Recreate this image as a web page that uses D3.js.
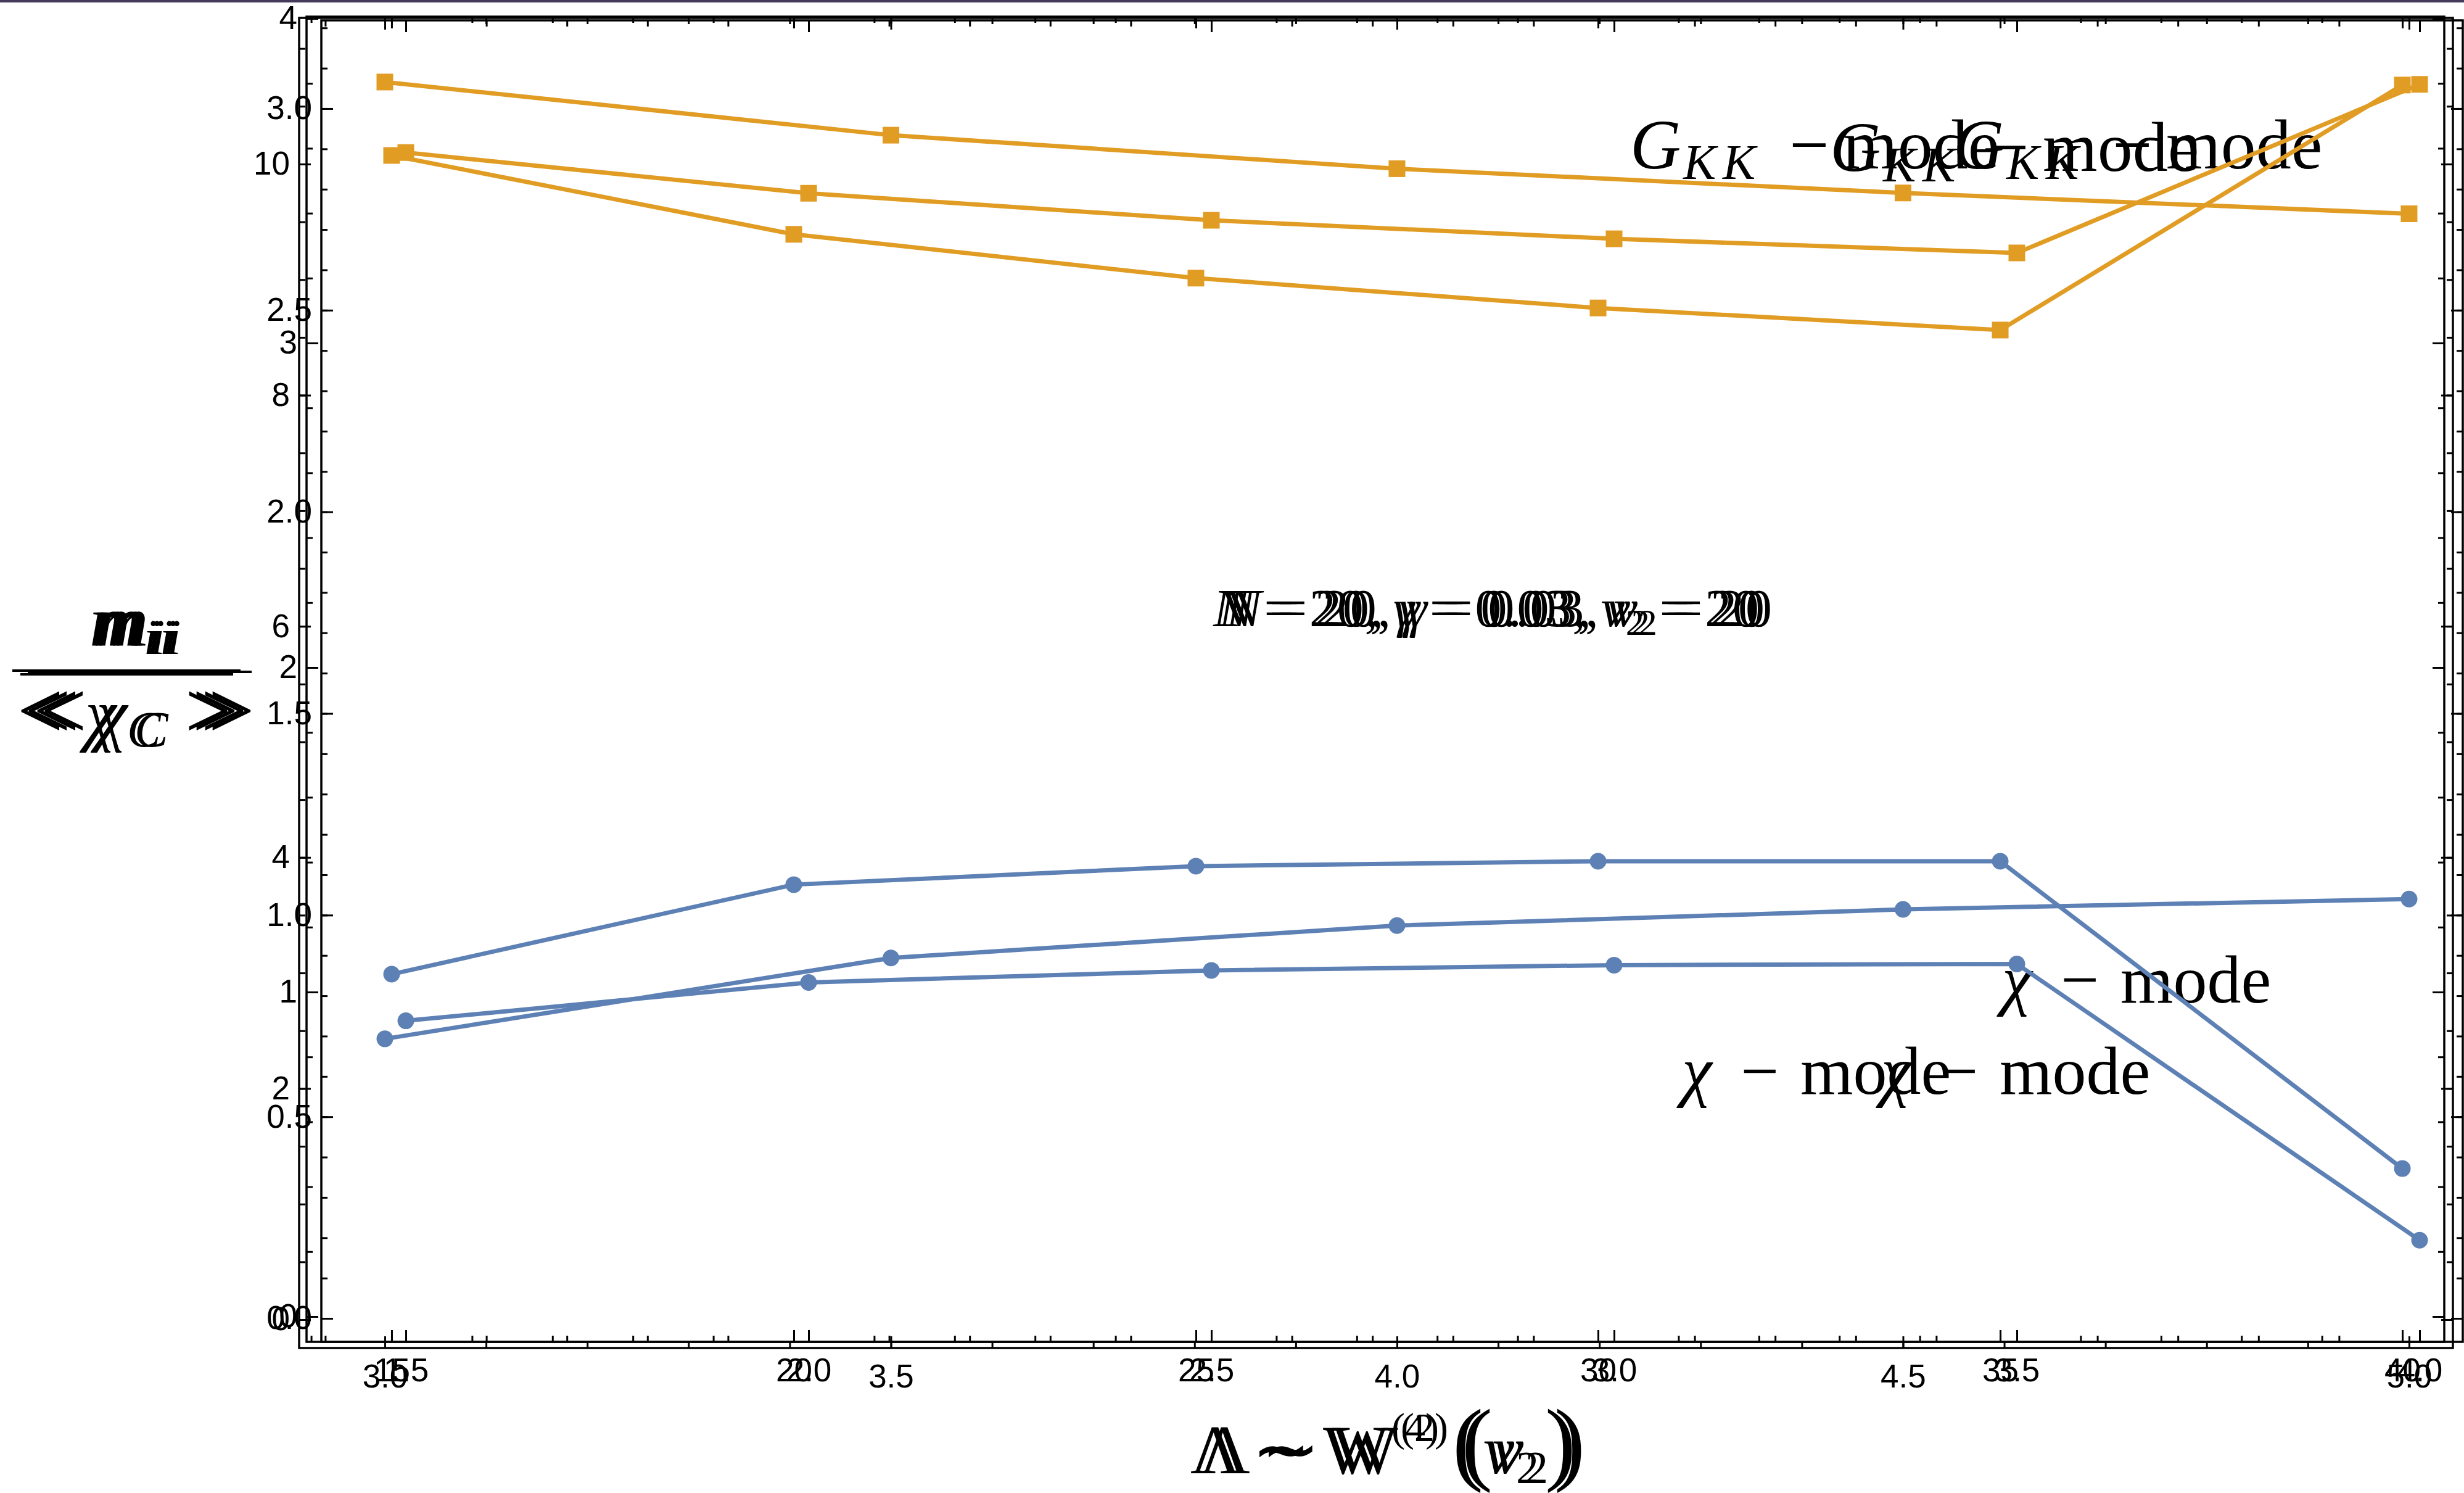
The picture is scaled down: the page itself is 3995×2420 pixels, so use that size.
<!DOCTYPE html>
<html>
<head>
<title>mode masses overlay</title>
<script src="https://cdnjs.cloudflare.com/ajax/libs/d3/7.8.5/d3.min.js"></script>
<style>
body { margin: 0; background: #fff; }
.math { font-family: "Liberation Serif", "Times New Roman", serif; fill: #000; }
</style>
</head>
<body>
<div id="vis_container"></div>
<script>

// ---- data ----
// plot 1 (x from 3.0 to 5.0, y from 0 to 10)
var p1_x = [3.0, 3.5, 4.0, 4.5, 5.0];
var p1_gkk = [10.71, 10.25, 9.96, 9.75, 9.57];
var p1_chi = [2.43, 3.13, 3.41, 3.55, 3.64];
var p1_xticks = [3.0, 3.5, 4.0, 4.5, 5.0];
var p1_yticks = [0, 2, 4, 6, 8, 10];

// plot 2 (x from 15 to 40, y from 0 to 4)
var p2_x = [15, 20, 25, 30, 35, 40];
var p2_gkk = [3.578, 3.335, 3.200, 3.108, 3.040, 3.795];
var p2_chi = [1.055, 1.331, 1.388, 1.403, 1.403, 0.456];
var p2_xticks = [15, 20, 25, 30, 35, 40];
var p2_yticks = [0, 1, 2, 3, 4];

// plot 3 (x from 1.5 to 4.0, y from 0.0 to 3.0)
var p3_x = [1.5, 2.0, 2.5, 3.0, 3.5, 4.0];
var p3_gkk = [2.891, 2.790, 2.723, 2.677, 2.642, 3.060];
var p3_chi = [0.738, 0.833, 0.863, 0.876, 0.879, 0.194];
var p3_xticks = [1.5, 2.0, 2.5, 3.0, 3.5, 4.0];
var p3_yticks = [0.0, 0.5, 1.0, 1.5, 2.0, 2.5, 3.0];

var width = 3995;
var height = 2420;
var orange = "#e19c24";
var blue = "#5e81b5";

var plots = [
    { x: p1_x, gkk: p1_gkk, chi: p1_chi, xticks: p1_xticks, yticks: p1_yticks,
      xminor: 0.1, yminor: 0.5, xfmt: d3.format(".1f"), yfmt: d3.format("d"),
      frame: { left: 485, top: 29, right: 3977, bottom: 2185 },
      xdom: [2.9153, 5.0433], ydom: [-0.2456, 11.265] },
    { x: p2_x, gkk: p2_gkk, chi: p2_chi, xticks: p2_xticks, yticks: p2_yticks,
      xminor: 1, yminor: 0.2, xfmt: d3.format("d"), yfmt: d3.format("d"),
      frame: { left: 497, top: 27, right: 3963, bottom: 2175 },
      xdom: [13.942, 40.521], ydom: [-0.078, 4.0057] },
    { x: p3_x, gkk: p3_gkk, chi: p3_chi, xticks: p3_xticks, yticks: p3_yticks,
      xminor: 0.1, yminor: 0.1, xfmt: d3.format(".1f"), yfmt: d3.format(".1f"),
      frame: { left: 521, top: 33, right: 3993, bottom: 2175 },
      xdom: [1.3951, 4.0536], ydom: [-0.0581, 3.2187] }
];

var svg = d3.select("#vis_container")
    .append("svg")
    .attr("width", width)
    .attr("height", height);

svg.append("rect").attr("width", width).attr("height", height).attr("fill", "#fff");
// thin dark strip at the very top
svg.append("rect").attr("width", width).attr("height", 4).attr("fill", "#463a5c");

// ---- text pieces (drawn first, the data lines sit over them) ----
function mathText(x, y, size, parts) {
    var t = svg.append("text").attr("class", "math")
        .attr("x", x).attr("y", y).attr("font-size", size);
    parts.forEach(function(p) {
        var s = t.append("tspan").text(p.t);
        if (p.x != null) s.attr("x", x + p.x);
        if (p.dy) s.attr("dy", p.dy);
        if (p.it) s.attr("font-style", "italic");
        if (p.fs) s.attr("font-size", p.fs);
    });
    return t;
}

// G_KK - mode, three copies
[[2643, 273], [2967, 277], [3167, 273]].forEach(function(c) {
    mathText(c[0], c[1], 114, [
        { t: "G", it: true },
        { t: "K", it: true, x: 86, dy: 17, fs: 80 },
        { t: "K", it: true, x: 150, fs: 80 },
        { t: "\u2212", x: 258, dy: -17 },
        { t: "mode", x: 345 }
    ]);
});

// chi - mode, three copies
[[3246, 1625], [2727, 1773], [3050, 1773]].forEach(function(c) {
    mathText(c[0], c[1], 110, [
        { t: "\u03c7", it: true },
        { t: "\u2212", x: 95 },
        { t: "mode", x: 192 }
    ]);
});

// parameter text, three copies
[0, 9, 21].forEach(function(d) {
    mathText(1967 + d, 1015, 86, [
        { t: "N", it: true },
        { t: " = 20, " },
        { t: "\u03b3", it: true },
        { t: " = 0.03, " },
        { t: "v", it: true },
        { t: "2", dy: 14, fs: 60 },
        { t: " = 20", dy: -14 }
    ]).attr("textLength", 885).attr("lengthAdjust", "spacing");
});

// x axis label, two copies
[[0, "4"], [15, "2"]].forEach(function(c) {
    var x0 = 1930 + c[0];
    mathText(x0, 2388, 113, [
        { t: "\u039b" },
        { t: "\u223c", x: 100 },
        { t: "W", x: 215 },
        { t: "(" + c[1] + ")", x: 326, dy: -52, fs: 66 },
        { t: "(", x: 425, dy: 52, fs: 150 },
        { t: "v", it: true, x: 475 },
        { t: "2", x: 528, dy: 16, fs: 74 },
        { t: ")", x: 575, dy: -16, fs: 150 }
    ]);
});

// y axis label: m_ii over <<chi_C>>, copies
[0, 6, 12].forEach(function(d) {
    mathText(145 + d, 1046, 116, [
        { t: "m", it: true },
        { t: "i", it: true, x: 88, dy: 14, fs: 80 },
        { t: "i", it: true, x: 114, fs: 80 }
    ]);
});
[0, 12].forEach(function(d) {
    mathText(28 + d, 1196, 114, [
        { t: "<", fs: 132 },
        { t: "<", x: 26, fs: 132 },
        { t: "\u03c7", it: true, x: 110 + d * 0.5 },
        { t: "C", it: true, x: 178, dy: 14, fs: 82 },
        { t: ">", x: 272, dy: -14, fs: 132 },
        { t: ">", x: 298, fs: 132 }
    ]);
});
[[20, 390, 1087], [33, 378, 1093], [45, 408, 1089]].forEach(function(l) {
    svg.append("line").attr("x1", l[0]).attr("x2", l[1])
        .attr("y1", l[2]).attr("y2", l[2])
        .attr("stroke", "#000").attr("stroke-width", 4);
});

// ---- the three overlaid plots ----
function minorValues(dom, step) {
    var a = Math.ceil(dom[0] / step - 1e-9), b = Math.floor(dom[1] / step + 1e-9);
    return d3.range(a, b + 1).map(function(k) { return +(k * step).toFixed(6); });
}

function styleAxis(g) {
    g.select(".domain").remove();
    g.selectAll(".tick line").attr("stroke", "#000").attr("stroke-width", 3);
    g.selectAll(".tick text")
        .attr("fill", "#000")
        .attr("font-family", "'Liberation Sans', Arial, sans-serif")
        .attr("font-size", 53);
}

plots.forEach(function(p) {
    var f = p.frame;
    var xs = d3.scaleLinear().domain(p.xdom).range([f.left, f.right]);
    var ys = d3.scaleLinear().domain(p.ydom).range([f.bottom, f.top]);
    var g = svg.append("g");

    var xmin = minorValues(p.xdom, p.xminor);
    var ymin = minorValues(p.ydom, p.yminor);

    // bottom
    g.append("g").attr("transform", "translate(0," + f.bottom + ")")
        .call(d3.axisBottom(xs).tickValues(xmin).tickSizeInner(-10).tickSizeOuter(0).tickFormat(""))
        .call(styleAxis);
    g.append("g").attr("transform", "translate(0," + f.bottom + ")")
        .call(d3.axisBottom(xs).tickValues(p.xticks).tickSizeInner(-19).tickSizeOuter(0)
            .tickPadding(26).tickFormat(p.xfmt))
        .call(styleAxis);
    // top
    g.append("g").attr("transform", "translate(0," + f.top + ")")
        .call(d3.axisTop(xs).tickValues(xmin).tickSizeInner(-10).tickSizeOuter(0).tickFormat(""))
        .call(styleAxis);
    g.append("g").attr("transform", "translate(0," + f.top + ")")
        .call(d3.axisTop(xs).tickValues(p.xticks).tickSizeInner(-19).tickSizeOuter(0).tickFormat(""))
        .call(styleAxis);
    // left
    g.append("g").attr("transform", "translate(" + f.left + ",0)")
        .call(d3.axisLeft(ys).tickValues(ymin).tickSizeInner(-10).tickSizeOuter(0).tickFormat(""))
        .call(styleAxis);
    g.append("g").attr("transform", "translate(" + f.left + ",0)")
        .call(d3.axisLeft(ys).tickValues(p.yticks).tickSizeInner(-19).tickSizeOuter(0)
            .tickPadding(15).tickFormat(p.yfmt))
        .call(styleAxis);
    // right
    g.append("g").attr("transform", "translate(" + f.right + ",0)")
        .call(d3.axisRight(ys).tickValues(ymin).tickSizeInner(-10).tickSizeOuter(0).tickFormat(""))
        .call(styleAxis);
    g.append("g").attr("transform", "translate(" + f.right + ",0)")
        .call(d3.axisRight(ys).tickValues(p.yticks).tickSizeInner(-19).tickSizeOuter(0).tickFormat(""))
        .call(styleAxis);

    g.append("rect")
        .attr("x", f.left).attr("y", f.top)
        .attr("width", f.right - f.left).attr("height", f.bottom - f.top)
        .attr("fill", "none").attr("stroke", "#000").attr("stroke-width", 3.5);

    var gk = p.x.map(function(d, i) { return [d, p.gkk[i]]; });
    var ch = p.x.map(function(d, i) { return [d, p.chi[i]]; });
    var line = d3.line().x(function(d) { return xs(d[0]); }).y(function(d) { return ys(d[1]); });

    // G_KK mode series
    g.append("path").datum(gk).attr("d", line)
        .attr("fill", "none").attr("stroke", orange).attr("stroke-width", 7);
    g.selectAll(".sq").data(gk).enter().append("rect")
        .attr("x", function(d) { return xs(d[0]) - 13.5; })
        .attr("y", function(d) { return ys(d[1]) - 13.5; })
        .attr("width", 27).attr("height", 27)
        .attr("fill", orange);

    // chi mode series
    g.append("path").datum(ch).attr("d", line)
        .attr("fill", "none").attr("stroke", blue).attr("stroke-width", 7);
    g.selectAll(".dot").data(ch).enter().append("circle")
        .attr("cx", function(d) { return xs(d[0]); })
        .attr("cy", function(d) { return ys(d[1]); })
        .attr("r", 13.5)
        .attr("fill", blue);
});

</script>
</body>
</html>
